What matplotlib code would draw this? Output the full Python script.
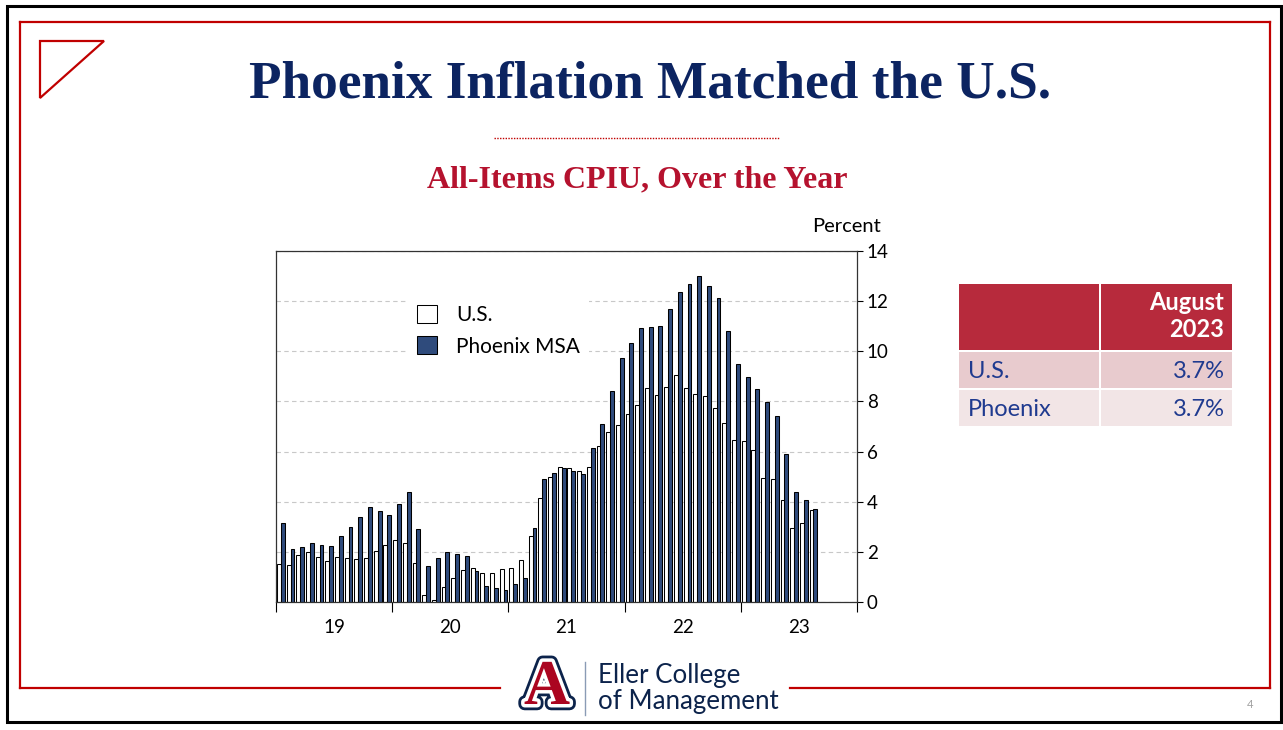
import numpy as np
import matplotlib
matplotlib.use("Agg")
import matplotlib.pyplot as plt
from matplotlib.lines import Line2D
from matplotlib.patches import Rectangle, Polygon
import matplotlib.patheffects as pe

# all-items CPI-U, percent change over the year, Jan 2019 - Aug 2023
us = [1.52, 1.48, 1.86, 2.00, 1.78, 1.62, 1.78, 1.74, 1.70, 1.74, 2.03, 2.29,
      2.49, 2.34, 1.54, 0.27, 0.07, 0.60, 0.94, 1.28, 1.36, 1.14, 1.14, 1.32,
      1.36, 1.66, 2.62, 4.16, 4.99, 5.38, 5.34, 5.24, 5.38, 6.21, 6.78, 7.05,
      7.49, 7.87, 8.54, 8.24, 8.58, 9.06, 8.54, 8.28, 8.20, 7.74, 7.13, 6.45,
      6.42, 6.05, 4.96, 4.92, 4.06, 2.95, 3.15, 3.67]
phx = [3.17, 2.11, 2.19, 2.34, 2.29, 2.24, 2.62, 2.99, 3.41, 3.80, 3.62, 3.46,
       3.92, 4.38, 2.93, 1.44, 1.74, 2.00, 1.90, 1.82, 1.22, 0.64, 0.56, 0.48,
       0.72, 0.94, 2.95, 4.90, 5.15, 5.34, 5.24, 5.12, 6.13, 7.09, 8.40, 9.72,
       10.35, 10.92, 10.97, 11.00, 11.68, 12.35, 12.68, 13.00, 12.59, 12.13, 10.82, 9.49,
       8.98, 8.48, 7.96, 7.41, 5.89, 4.40, 4.06, 3.69]
years = ["19", "20", "21", "22", "23"]
table_rows = ["U.S.", "Phoenix"]
table_vals = ["3.7%", "3.7%"]
table_head = "August\n2023"

plt.rcParams['font.family'] = ['Lato', 'DejaVu Sans']

W, H = 1283, 730
def fx(x):
    return x / W
def fy(y):
    return 1 - y / H

RED = '#C00000'
NAVY = '#0C2461'
BLUE = '#2F4B7C'

fig = plt.figure(figsize=(W / 100, H / 100), dpi=100)

def fline(xs, ys, **kw):
    fig.add_artist(Line2D([fx(v) for v in xs], [fy(v) for v in ys],
                          transform=fig.transFigure, **kw))

def frect(x0, y0, x1, y1, **kw):
    fig.add_artist(Rectangle((fx(x0), fy(y1)), fx(x1) - fx(x0), fy(y0) - fy(y1),
                             transform=fig.transFigure, **kw))

# slide frame
frect(7, 6, 1281, 722, fill=False, edgecolor='black', lw=2.2)
fline([20, 1270], [22, 22], color=RED, lw=1.6)
fline([20, 20], [22, 688], color=RED, lw=1.6)
fline([1270, 1270], [22, 688], color=RED, lw=1.6)
fline([20, 500], [688, 688], color=RED, lw=1.6)
fline([790, 1270], [688, 688], color=RED, lw=1.6)
fig.add_artist(Polygon([(fx(40), fy(41)), (fx(104), fy(41)), (fx(40), fy(98))],
                       closed=True, fill=False, edgecolor=RED, lw=1.6,
                       transform=fig.transFigure))

fig.text(fx(650), fy(84), "Phoenix Inflation Matched the U.S.", ha='center', va='center',
         family='Liberation Serif', weight='bold', fontsize=38.3, color=NAVY)
fline([494, 780], [138, 138], color=RED, lw=1, linestyle=(0, (1, 1)))
fig.text(fx(637), fy(180), "All-Items CPIU, Over the Year", ha='center', va='center',
         family='Liberation Serif', weight='bold', fontsize=23, color='#B5122E')

# chart
ax = fig.add_axes([fx(276), fy(602), fx(857) - fx(276), fy(251) - fy(602)])
x = np.arange(len(us))
ax.bar(x - 0.2, us, width=0.4, color='white', edgecolor='black', linewidth=0.75, label='U.S.')
ax.bar(x + 0.2, phx, width=0.4, color=BLUE, edgecolor='black', linewidth=0.75, label='Phoenix MSA')
ax.set_xlim(-0.5, 59.5)
ax.set_ylim(0, 14)
ax.set_axisbelow(True)
ax.grid(axis='y', linestyle=(0, (4, 3)), color='#C8C8C8', lw=0.8)

ax.yaxis.tick_right()
ax.set_yticks(range(0, 15, 2))
ax.tick_params(axis='y', direction='out', length=4, width=0.8, labelsize=13.5, pad=3)
ax.set_xticks([-0.5 + 12 * i for i in range(6)])
ax.set_xticklabels([])
ax.set_xticks([5.5 + 12 * i for i in range(5)], minor=True)
ax.set_xticklabels(years, minor=True)
ax.tick_params(axis='x', which='major', direction='out', length=7, width=0.8)
ax.tick_params(axis='x', which='minor', length=0, labelsize=13.5, pad=12)
for s in ax.spines.values():
    s.set_color('#333333')
    s.set_linewidth(0.9)

ax.legend(loc='upper left', bbox_to_anchor=(fx(398), fy(286)), bbox_transform=fig.transFigure,
          frameon=True, facecolor='white', edgecolor='none', framealpha=1, fancybox=False,
          fontsize=15, handlelength=0.95, handleheight=0.95, handletextpad=0.95,
          labelspacing=0.55, borderpad=0.4)
fig.text(fx(846), fy(227), "Percent", ha='center', va='center', fontsize=14.5)

# table
frect(959, 284, 1099, 350, color='#B72A3C', lw=0)
frect(1101, 284, 1232, 350, color='#B72A3C', lw=0)
row_colors = ['#E8CBCE', '#F2E5E6']
for i, (name, val) in enumerate(zip(table_rows, table_vals)):
    y0 = 352 + i * 38
    frect(959, y0, 1099, y0 + 36, color=row_colors[i], lw=0)
    frect(1101, y0, 1232, y0 + 36, color=row_colors[i], lw=0)
    fig.text(fx(968), fy(y0 + 19), name, ha='left', va='center', fontsize=17, color='#1F3A8F')
    fig.text(fx(1225), fy(y0 + 19), val, ha='right', va='center', fontsize=17, color='#1F3A8F')
fig.text(fx(1224), fy(316), table_head, ha='right', va='center', fontsize=17,
         weight='bold', color='white', linespacing=1.2)

# footer logo
fig.text(fx(547), fy(689), "A", ha='center', va='center', family='Liberation Serif',
         weight='bold', fontsize=46, color='#AB0520',
         path_effects=[pe.Stroke(linewidth=9, foreground='#0C234B'),
                       pe.Stroke(linewidth=5, foreground='white'), pe.Normal()])
fline([585, 585], [662, 715], color='#8A9BB5', lw=1)
fig.text(fx(598), fy(676), "Eller College", ha='left', va='center', fontsize=18.6, color='#0C234B')
fig.text(fx(598), fy(701), "of Management", ha='left', va='center', fontsize=18.6, color='#0C234B')
fig.text(fx(1250), fy(705), "4", ha='center', va='center', fontsize=8, color='#A0A0A0')

fig.savefig("out.png", dpi=100)
